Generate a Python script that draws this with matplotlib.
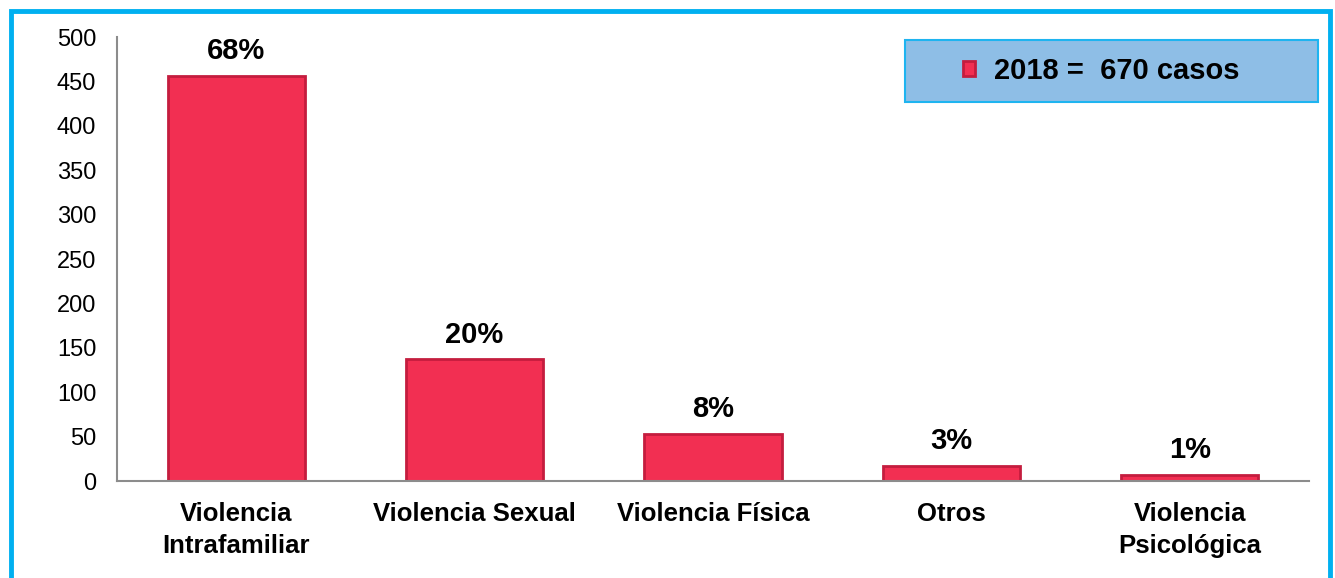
import matplotlib.pyplot as plt
import matplotlib.patches as mpatches
import numpy as np

plt.rcParams['font.family'] = ['Liberation Sans', 'DejaVu Sans']

# data
categorias = ['Violencia\nIntrafamiliar', 'Violencia Sexual', 'Violencia Física',
              'Otros', 'Violencia\nPsicológica']
casos = [456, 137, 53, 17, 7]
porcentajes = ['68%', '20%', '8%', '3%', '1%']
serie = '2018 =  670 casos'

W, H = 1335, 578
fig = plt.figure(figsize=(W / 100, H / 100), dpi=100)

# outer cyan frame
fig.patches.append(mpatches.Rectangle((11 / W, -0.05), (1330 - 11) / W, 1 - 11 / H + 0.05,
                                      transform=fig.transFigure, fill=False,
                                      edgecolor='#00B0F0', linewidth=3.5))

ax = fig.add_axes([117 / W, (H - 481) / H, (1309 - 117) / W, (481 - 37) / H])

x = np.arange(len(categorias))
bars = ax.bar(x, casos, width=0.575, color='#F22F52', edgecolor='#C41D3E',
              linewidth=2, label=serie, zorder=2)

for xi, v, p in zip(x, casos, porcentajes):
    ax.text(xi, v + 12, p, ha='center', va='bottom', fontsize=21, fontweight='bold')

ax.set_xlim(-0.5, 4.5)
ax.set_ylim(0, 500)
ax.set_yticks(np.arange(0, 501, 50))
ax.set_xticks(x)
ax.set_xticklabels(categorias, fontsize=18.5, fontweight='bold', linespacing=1.45)
ax.tick_params(axis='y', length=0, labelsize=17, pad=15)
ax.tick_params(axis='x', length=0, pad=15)

for s in ['top', 'right']:
    ax.spines[s].set_visible(False)
for s in ['left', 'bottom']:
    ax.spines[s].set_color('#8C8C8C')
    ax.spines[s].set_linewidth(1.5)

# legend box
caja = mpatches.Rectangle((905 / W, 1 - 102 / H), (1318 - 905) / W, 62 / H,
                          transform=fig.transFigure, facecolor='#8EBEE6',
                          edgecolor='#1EB4F0', linewidth=1.5, zorder=3, clip_on=False)
ax.add_patch(caja)
leg = ax.legend(loc='center', bbox_to_anchor=(1101 / W, 1 - 71 / H),
                bbox_transform=fig.transFigure, frameon=False,
                prop={'size': 21, 'weight': 'bold'}, handlelength=0.42,
                handleheight=0.42, handletextpad=0.65)
leg.set_zorder(5)

fig.savefig('out.png', dpi=100)
